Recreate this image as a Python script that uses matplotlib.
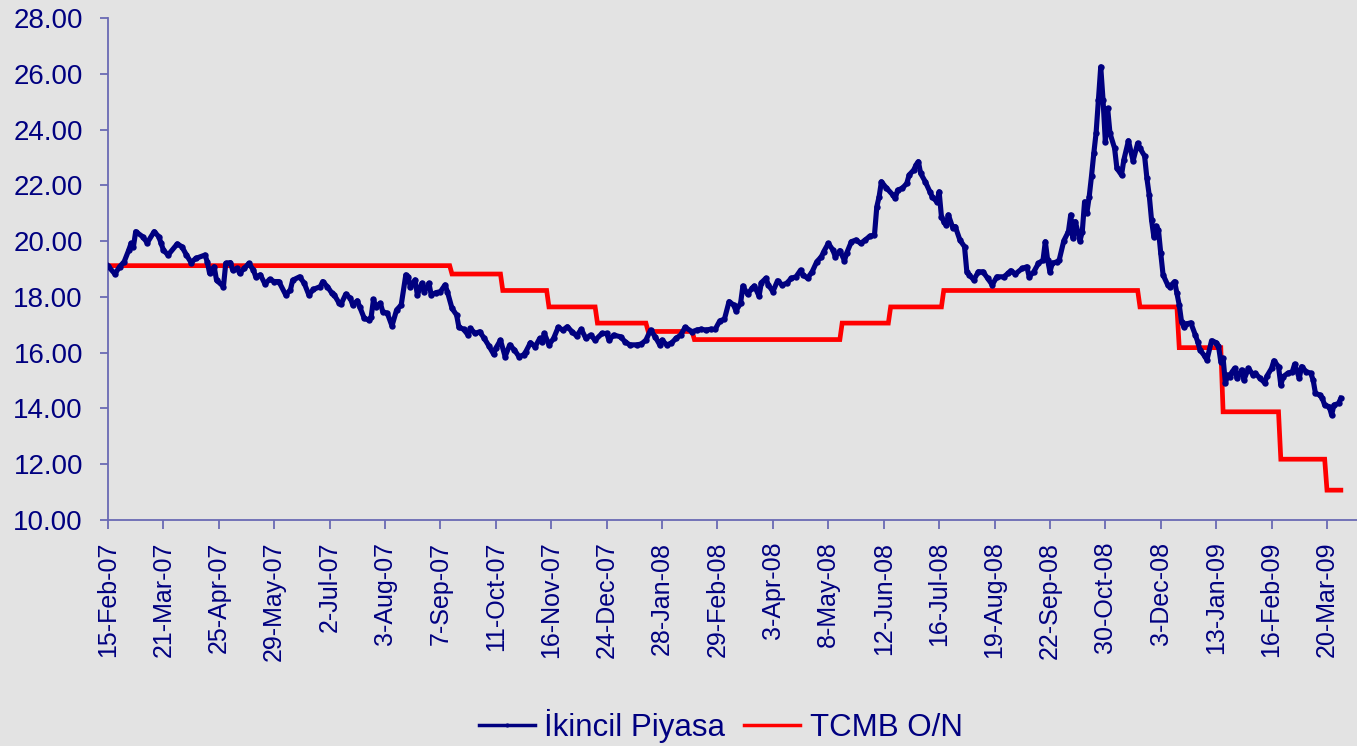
import numpy as np
import matplotlib
matplotlib.use("Agg")
import matplotlib.pyplot as plt

# Trading-day index and secondary-market compound yield (%)
day_idx = [0, 3, 5, 7, 9, 10, 11, 12, 15, 17, 20, 22, 23, 24, 26, 30, 32, 34, 36, 38,
           42, 43, 44, 46, 47, 50, 51, 53, 54, 56, 57, 59, 61, 63, 64, 66, 68, 70, 72, 74,
           77, 79, 80, 83, 85, 87, 89, 92, 93, 95, 97, 98, 100, 101, 103, 105, 106, 108, 109, 111,
           113, 114, 115, 116, 118, 119, 121, 123, 125, 127, 129, 130, 131, 133, 134, 136, 137, 139, 140, 142,
           144, 146, 147, 149, 151, 152, 154, 156, 157, 159, 161, 163, 165, 167, 168, 170, 172, 174, 176, 178,
           180, 181, 183, 185, 187, 188, 189, 191, 193, 195, 197, 199, 201, 203, 205, 207, 209, 211, 214, 216,
           217, 219, 222, 224, 226, 229, 231, 233, 235, 237, 239, 240, 242, 244, 246, 248, 250, 253, 255, 257,
           259, 261, 263, 265, 267, 269, 271, 272, 274, 275, 277, 279, 280, 282, 283, 285, 286, 288, 290, 292,
           294, 296, 298, 300, 301, 303, 305, 307, 309, 310, 312, 314, 315, 317, 319, 320, 322, 324, 326, 328,
           330, 332, 333, 334, 335, 337, 340, 341, 342, 344, 346, 347, 349, 350, 351, 352, 354, 356, 357, 359,
           360, 361, 362, 363, 364, 366, 367, 369, 371, 372, 373, 375, 377, 379, 381, 383, 385, 388, 390, 391,
           393, 396, 398, 399, 401, 403, 405, 406, 407, 408, 409, 411, 412, 414, 416, 417, 418, 419, 421, 422,
           423, 424, 425, 426, 427, 428, 429, 430, 431, 432, 433, 434, 436, 437, 439, 440, 442, 444, 446, 447,
           449, 450, 451, 452, 453, 454, 455, 456, 457, 459, 460, 462, 463, 464, 465, 466, 467, 469, 471, 472,
           473, 475, 476, 478, 480, 481, 482, 483, 484, 485, 486, 487, 488, 489, 491, 492, 494, 496, 497, 499,
           501, 502, 504, 505, 507, 508, 509, 511, 513, 514, 516, 517, 519, 521, 522, 523, 525, 526, 527, 529,
           530, 531, 533, 534]
ikincil = [19.11, 18.82, 19.08, 19.26, 19.68, 19.92, 19.80, 20.34, 20.16, 19.94, 20.34, 20.16, 19.92, 19.68, 19.50, 19.90, 19.80, 19.50, 19.23, 19.38,
           19.50, 19.26, 18.85, 19.08, 18.60, 18.37, 19.20, 19.23, 18.96, 19.02, 18.85, 19.02, 19.20, 18.96, 18.72, 18.79, 18.46, 18.63, 18.55, 18.55,
           18.07, 18.25, 18.60, 18.72, 18.49, 18.07, 18.27, 18.37, 18.55, 18.37, 18.13, 18.07, 17.79, 17.75, 18.10, 17.95, 17.71, 17.86, 17.65, 17.23,
           17.17, 17.29, 17.91, 17.65, 17.77, 17.47, 17.41, 16.96, 17.53, 17.71, 18.79, 18.72, 18.34, 18.61, 18.07, 18.49, 18.19, 18.49, 18.07, 18.15,
           18.19, 18.43, 18.19, 17.59, 17.35, 16.91, 16.84, 16.63, 16.87, 16.69, 16.75, 16.51, 16.24, 15.95, 16.16, 16.45, 15.86, 16.28, 16.10, 15.86,
           15.92, 16.04, 16.36, 16.21, 16.51, 16.39, 16.69, 16.28, 16.51, 16.91, 16.81, 16.93, 16.75, 16.60, 16.84, 16.51, 16.63, 16.45, 16.69, 16.69,
           16.45, 16.63, 16.57, 16.39, 16.28, 16.28, 16.31, 16.45, 16.81, 16.57, 16.28, 16.45, 16.28, 16.34, 16.51, 16.63, 16.91, 16.75, 16.81, 16.84,
           16.81, 16.84, 16.84, 17.14, 17.20, 17.83, 17.71, 17.50, 17.77, 18.39, 18.10, 18.31, 18.39, 18.03, 18.51, 18.67, 18.43, 18.19, 18.58, 18.43,
           18.49, 18.67, 18.72, 18.96, 18.79, 18.67, 18.90, 19.26, 19.44, 19.62, 19.92, 19.68, 19.44, 19.66, 19.30, 19.58, 19.98, 20.04, 19.92, 20.04,
           20.18, 20.22, 21.23, 21.59, 22.13, 21.92, 21.65, 21.53, 21.83, 21.89, 22.07, 22.37, 22.55, 22.73, 22.85, 22.43, 22.13, 21.77, 21.59, 21.41,
           21.77, 20.88, 20.70, 20.58, 20.94, 20.46, 20.52, 20.04, 19.80, 18.90, 18.79, 18.61, 18.90, 18.90, 18.67, 18.43, 18.72, 18.72, 18.85, 18.94,
           18.82, 19.02, 19.08, 18.72, 18.90, 19.20, 19.32, 19.98, 19.32, 18.90, 19.20, 19.26, 19.32, 20.01, 20.34, 20.94, 20.10, 20.70, 20.01, 20.34,
           21.41, 21.02, 21.59, 22.33, 23.15, 23.89, 25.06, 26.25, 25.06, 23.56, 24.76, 23.87, 23.33, 22.61, 22.37, 22.91, 23.60, 22.88, 23.51, 23.33,
           23.05, 22.25, 21.65, 20.76, 20.16, 20.54, 20.40, 19.56, 18.79, 18.43, 18.37, 18.55, 18.13, 17.71, 17.11, 16.93, 17.03, 17.07, 16.63, 16.39,
           16.10, 15.88, 15.74, 16.43, 16.36, 16.24, 15.68, 15.80, 14.90, 15.20, 15.14, 15.32, 15.44, 15.08, 15.38, 15.02, 15.44, 15.20, 15.26, 15.08,
           14.92, 15.16, 15.44, 15.71, 15.50, 14.84, 15.14, 15.26, 15.32, 15.59, 15.08, 15.50, 15.32, 15.26, 15.02, 14.54, 14.48, 14.36, 14.12, 14.06,
           13.77, 14.12, 14.18, 14.36]

# TCMB overnight rate: trading-day index where each level takes effect
policy_start = [0, 149, 171, 191, 212, 234, 254, 318, 339, 362, 447, 464, 483, 508, 528]
policy_rate = [19.12, 18.82, 18.23, 17.64, 17.06, 16.76, 16.47, 17.06, 17.64, 18.23,
               17.64, 16.18, 13.88, 12.18, 11.07]
last_day = 534

tick_labels = ["15-Feb-07", "21-Mar-07", "25-Apr-07", "29-May-07", "2-Jul-07", "3-Aug-07",
               "7-Sep-07", "11-Oct-07", "16-Nov-07", "24-Dec-07", "28-Jan-08", "29-Feb-08",
               "3-Apr-08", "8-May-08", "12-Jun-08", "16-Jul-08", "19-Aug-08", "22-Sep-08",
               "30-Oct-08", "3-Dec-08", "13-Jan-09", "16-Feb-09", "20-Mar-09"]
tick_every = 24

y_ticks = np.arange(10, 28.01, 2)

NAVY = "#000080"
RED = "#ff0000"
BG = "#e3e3e3"
AXIS = "#6a6ab4"

plt.rcParams["font.family"] = ["Liberation Sans", "DejaVu Sans"]

# daily policy series built from the step levels
durations = np.diff(policy_start + [last_day + 1])
policy_daily = np.repeat(policy_rate, durations)
policy_days = np.arange(last_day + 1)

fig = plt.figure(figsize=(13.57, 7.46), dpi=100, facecolor=BG)
ax = fig.add_axes([108 / 1357, 226 / 746, 1249 / 1357, 502 / 746])
ax.set_facecolor(BG)

ax.plot(policy_days, policy_daily, color=RED, lw=3.4, solid_joinstyle="miter",
        label="TCMB O/N", zorder=2)
ax.plot(day_idx, ikincil, color=NAVY, lw=3.7, marker="o", markersize=4.6,
        markeredgewidth=0, solid_joinstyle="round", label="İkincil Piyasa", zorder=3)

ax.set_xlim(0, 541)
ax.set_ylim(10, 28)

ax.set_yticks(y_ticks)
ax.set_yticklabels([f"{v:.2f}" for v in y_ticks])
ax.set_xticks(np.arange(len(tick_labels)) * tick_every)
ax.set_xticklabels(tick_labels, rotation=90)

for side in ("top", "right"):
    ax.spines[side].set_visible(False)
for side in ("left", "bottom"):
    ax.spines[side].set_color(AXIS)
    ax.spines[side].set_linewidth(1.3)

ax.tick_params(axis="y", direction="out", length=6, width=1.3, color=AXIS,
               labelcolor=NAVY, labelsize=20, pad=12)
ax.tick_params(axis="x", direction="out", length=6.5, width=1.3, color=AXIS,
               labelcolor=NAVY, labelsize=18, pad=9)

handles, labels = ax.get_legend_handles_labels()
leg = fig.legend(handles[::-1], labels[::-1], loc="center", bbox_to_anchor=(0.531, 0.027),
                 ncol=2, frameon=False, fontsize=22.5, handlelength=1.8,
                 handletextpad=0.3, columnspacing=0.6, numpoints=1)
for t in leg.get_texts():
    t.set_color(NAVY)
for h in leg.legend_handles:
    h.set_linewidth(2.5)
    h.set_markersize(3)

fig.savefig("out.png", dpi=100, facecolor=BG)
